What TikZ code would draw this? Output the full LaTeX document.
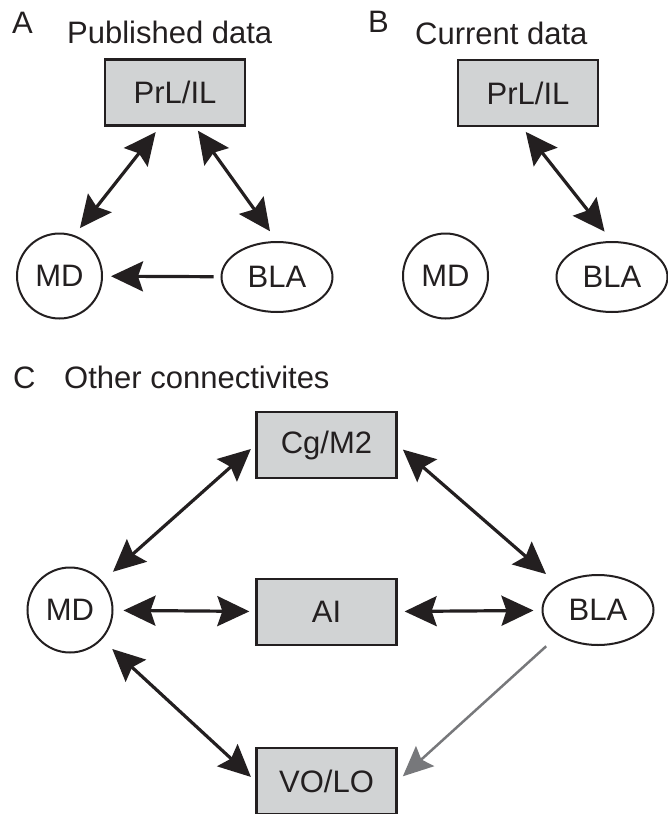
\documentclass[tikz,border=0pt]{standalone}
\usepackage{fontspec}
\setmainfont{Liberation Sans}
\usetikzlibrary{arrows.meta,shapes.geometric}
\definecolor{boxgray}{HTML}{D1D3D4}
\definecolor{ink}{HTML}{231F20}
\definecolor{grayline}{HTML}{77787B}
\begin{document}
\begin{tikzpicture}[x=1pt,y=-1pt,
  lbl/.style={inner sep=0pt,anchor=base west,font=\fontsize{31pt}{37pt}\selectfont,text=ink},
  regbox/.style={rectangle,draw=ink,line width=2.3pt,fill=boxgray,minimum width=140pt,minimum height=66pt,inner sep=0pt,font=\fontsize{31pt}{37pt}\selectfont,text=ink},
  regcirc/.style={circle,draw=ink,line width=2pt,minimum size=85pt,inner sep=0pt,font=\fontsize{31pt}{37pt}\selectfont,text=ink},
  regell/.style={ellipse,draw=ink,line width=2pt,minimum width=111pt,minimum height=70pt,inner sep=0pt,font=\fontsize{31pt}{37pt}\selectfont,text=ink},
  dbl/.style={draw=ink,line width=3.2pt,{Stealth[length=32pt,width=30pt,inset=5pt]}-{Stealth[length=32pt,width=30pt,inset=5pt]}},
  sgl/.style={draw=ink,line width=3.2pt,-{Stealth[length=32pt,width=30pt,inset=5pt]}},
  grayarr/.style={draw=grayline,line width=2.5pt,-{Stealth[length=30pt,width=27pt,inset=5pt]}}
]
\useasboundingbox (0,0) rectangle (667,814);

% Panel A
\node[lbl] (tA) at (12,33) {A};
\node[lbl] (ttA) at (67,43) {Published data};
\node[regbox] (prlA) at (175,92.5) {PrL/IL};
\node[regcirc] (mdA) at (59.5,276) {MD};
\node[regell] (blaA) at (277,277) {BLA};
\draw[dbl,shorten <=9pt,shorten >=7pt] (mdA.70) -- ([xshift=-15pt]prlA.south);
\draw[dbl,shorten <=5pt,shorten >=12pt] ([xshift=20pt]prlA.south) -- (blaA.north);
\draw[sgl,shorten <=7pt,shorten >=8pt] (blaA) -- (mdA);

% Panel B
\node[lbl] (tB) at (368,32) {B};
\node[lbl] (ttB) at (415,44) {Current data};
\node[regbox] (prlB) at (528,93) {PrL/IL};
\node[regcirc] (mdB) at (445.5,276) {MD};
\node[regell] (blaB) at (612,277) {BLA};
\draw[dbl,shorten <=6pt,shorten >=12pt] ([xshift=-6pt]prlB.south) -- (blaB.north);

% Panel C
\node[lbl] (tC) at (13,388) {C};
\node[lbl] (ttC) at (64,388) {Other connectivites};
\node[regbox] (cg) at (326.5,445) {Cg/M2};
\node[regbox] (ai) at (326.5,612) {AI};
\node[regbox] (vo) at (326.5,781) {VO/LO};
\node[regcirc] (mdC) at (70,610) {MD};
\node[regell] (blaC) at (598,610) {BLA};
\draw[dbl,shorten <=14pt,shorten >=6pt] (mdC) -- (cg.west);
\draw[dbl,shorten <=7pt,shorten >=16pt] (cg.east) -- (blaC.north west);
\draw[dbl,shorten <=10pt,shorten >=6pt] (mdC) -- (ai);
\draw[dbl,shorten <=7pt,shorten >=8pt] (ai) -- (blaC);
\draw[dbl,shorten <=14pt,shorten >=6pt] (mdC) -- (vo.west);
\draw[grayarr,shorten <=16pt,shorten >=7pt] (blaC.south west) -- (vo.east);
\end{tikzpicture}
\end{document}
